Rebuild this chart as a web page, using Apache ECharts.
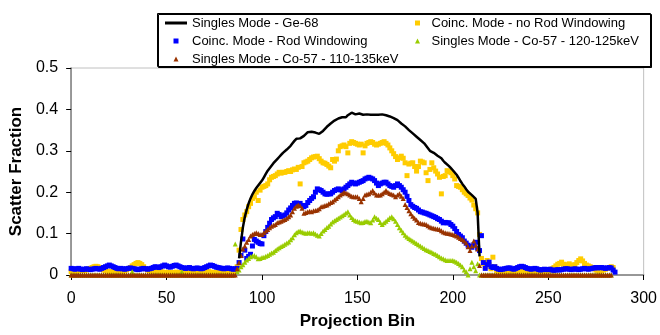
<!DOCTYPE html>
<html>
<head>
<meta charset="utf-8">
<script src="https://cdn.jsdelivr.net/npm/echarts@6/dist/echarts.min.js"></script>
<style>
  html, body { margin: 0; padding: 0; background: #fff; }
  #chart { width: 660px; height: 335px; }
</style>
</head>
<body>
<div id="chart"></div>
<script>
// x axis = projection bin, each series starts at a given bin
const xTicks = { min: 0, max: 300, step: 50 }
const yTicks = { min: 0, max: 0.5, step: 0.1 }

const names = [
  'Singles Mode - Ge-68',
  'Coinc. Mode - no Rod Windowing',
  'Coinc. Mode - Rod Windowing',
  'Singles Mode - Co-57 - 120-125keV',
  'Singles Mode - Co-57 - 110-135keV',
]

// Singles Mode - Ge-68 (line), bins 88..214
const geStart = 88
const geVals = [
  .04, .08,
  .115, .14, .158, .173, .185, .195, .203, .21, .216, .222,
  .228, .236, .244, .252, .258, .264, .27, .275, .28, .285,
  .29, .295, .299, .303, .307, .312, .318, .324, .329, .332,
  .33, .332, .336, .34, .345, .347, .346, .345, .344, .341,
  .341, .343, .348, .353, .358, .362, .366, .37, .373, .376,
  .378, .38, .381, .379, .381, .386, .39, .392, .391, .388,
  .388, .39, .389, .387, .386, .388, .389, .387, .386, .387,
  .388, .387, .387, .388, .388, .386, .385, .383, .381, .379,
  .377, .374, .37, .366, .362, .359, .355, .35, .346, .342,
  .338, .334, .33, .326, .322, .318, .312, .306, .3, .297,
  .295, .291, .288, .286, .282, .276, .271, .267, .263, .258,
  .253, .249, .242, .235, .227, .22, .214, .207, .201, .197,
  .193, .189, .184, .15, .045,
]

// Coinc. Mode - no Rod Windowing, bins 0..284
const noRodStart = 0
const noRodVals = [
  .008, .009, .01, .009, .01, .012, .011, .01, .012, .014,
  .016, .018, .02, .021, .02, .018, .015, .012, .01, .009,
  .008, .008, .007, .008, .009, .008, .007, .008, .01, .012,
  .015, .018, .022, .025, .028, .03, .028, .025, .02, .015,
  .012, .01, .009, .008, .007, .006, .007, .008, .007, .006,
  .006, .007, .006, .005, .006, .007, .006, .005, .006, .007,
  .006, .005, .006, .007, .006, .005, .006, .007, .006, .005,
  .006, .007, .008, .007, .006, .005, .006, .007, .006, .005,
  .006, .007, .006, .005, .006, .007, .01, .02, .06, .11,
  .134, .145, .153, .165, .173, .185, .189, .2, .18, .205,
  .212, .214, .216, .22, .23, .236, .238, .24, .244, .248,
  .246, .248, .248, .25, .252, .25, .254, .256, .255, .26,
  .22, .262, .271, .273, .275, .279, .283, .285, .286, .287,
  .281, .275, .271, .27, .267, .263, .259, .279, .275, .28,
  .3, .31, .312, .314, .31, .295, .318, .322, .32, .318,
  .316, .314, .316, .295, .312, .318, .32, .322, .32, .316,
  .314, .316, .318, .32, .322, .318, .314, .307, .3, .293,
  .286, .279, .283, .287, .282, .271, .24, .268, .27, .271,
  .262, .251, .262, .275, .273, .271, .247, .228, .255, .271,
  .259, .251, .244, .236, .196, .238, .24, .252, .25, .247,
  .24, .232, .216, .214, .212, .206, .2, .196, .192, .186,
  .181, .169, .16, .15, .098, .04, .028, .02, .035, .025,
  .015, .043, .02, .01, .008, .007, .008, .009, .008, .007,
  .008, .009, .008, .007, .008, .009, .01, .009, .008, .007,
  .008, .009, .008, .007, .008, .009, .008, .007, .008, .009,
  .01, .012, .015, .018, .022, .026, .028, .031, .026, .022,
  .025, .027, .024, .02, .025, .03, .035, .039, .034, .028,
  .024, .022, .02, .018, .015, .012, .01, .009, .01, .012,
  .014, .016, .018, .02, .018,
]

// Coinc. Mode - Rod Windowing, bins 0..285
const rodStart = 0
const rodVals = [
  .016, .015, .014, .015, .016, .014, .013, .014, .015, .014,
  .013, .014, .015, .016, .015, .014, .016, .018, .02, .022,
  .024, .022, .02, .018, .016, .015, .016, .015, .014, .015,
  .016, .017, .016, .015, .014, .013, .014, .015, .016, .015,
  .014, .015, .016, .018, .02, .019, .018, .02, .022, .024,
  .022, .02, .019, .021, .023, .024, .022, .02, .018, .017,
  .016, .017, .018, .016, .015, .016, .017, .016, .015, .016,
  .018, .02, .022, .024, .023, .021, .019, .018, .017, .016,
  .015, .016, .017, .016, .015, .014, .015, .016, .03, .047,
  .087, .06, .04, .045, .05, .07, .086, .082, .079, .076,
  .075, .095, .105, .115, .125, .134, .138, .141, .149, .146,
  .141, .143, .145, .15, .157, .162, .168, .173, .174, .172,
  .173, .168, .165, .168, .175, .18, .185, .189, .2, .208,
  .206, .204, .2, .196, .195, .196, .196, .2, .204, .206,
  .208, .206, .204, .208, .212, .216, .22, .224, .222, .22,
  .222, .224, .226, .228, .232, .234, .236, .234, .232, .228,
  .222, .216, .22, .222, .224, .224, .22, .216, .214, .212,
  .216, .22, .216, .212, .206, .2, .19, .18, .17, .166,
  .163, .161, .157, .153, .152, .15, .149, .147, .145, .143,
  .141, .139, .136, .134, .13, .126, .127, .126, .126, .122,
  .118, .112, .105, .098, .094, .09, .082, .077, .072, .069,
  .067, .073, .079, .065, .059, .095, .03, .016, .025, .031,
  .02, .018, .02, .016, .014, .013, .014, .015, .016, .017,
  .017, .015, .014, .016, .018, .02, .021, .02, .018, .016,
  .015, .014, .015, .016, .015, .013, .012, .013, .014, .013,
  .013, .014, .012, .011, .012, .013, .012, .013, .014, .015,
  .015, .014, .013, .014, .015, .014, .013, .014, .015, .016,
  .015, .014, .015, .016, .017, .018, .017, .018, .018, .017,
  .016, .017, .018, .017, .012, .007,
]

// Singles Mode - Co-57 - 120-125keV, bins 0..283
const co57NarrowStart = 0
const co57NarrowVals = [
  0, 0, 0, 0, 0, 0, 0, 0, 0, 0,
  0, 0, 0, 0, 0, 0, 0, 0, 0, 0,
  0, 0, 0, 0, 0, 0, 0, 0, 0, 0,
  0, 0, .008, 0, 0, 0, 0, 0, 0, 0,
  0, 0, 0, 0, 0, 0, 0, 0, 0, 0,
  0, 0, 0, 0, 0, 0, 0, 0, .008, 0,
  0, 0, 0, 0, 0, 0, 0, 0, 0, 0,
  0, 0, 0, 0, 0, 0, 0, 0, 0, 0,
  0, 0, 0, 0, 0, 0, .075, .008, .012, .02,
  .025, .031, .036, .04, .044, .046, .047, .044, .039, .04,
  .042, .043, .045, .047, .05, .053, .055, .059, .063, .066,
  .069, .071, .074, .077, .08, .085, .09, .097, .102, .105,
  .106, .104, .102, .101, .102, .102, .101, .102, .099, .096,
  .094, .1, .106, .11, .115, .118, .123, .128, .131, .134,
  .137, .14, .143, .146, .15, .153, .145, .139, .134, .131,
  .13, .128, .126, .127, .129, .13, .128, .126, .133, .141,
  .137, .134, .127, .122, .126, .13, .134, .138, .141, .136,
  .13, .122, .114, .108, .102, .096, .092, .088, .085, .082,
  .079, .076, .073, .07, .067, .064, .061, .059, .057, .055,
  .052, .05, .047, .044, .041, .039, .037, .035, .035, .035,
  .035, .033, .031, .028, .024, .02, .012, .008, 0, .015,
  .031, .02, .01, .027, 0, 0, 0, 0, 0, 0,
  0, 0, 0, 0, 0, 0, 0, 0, 0, 0,
  0, 0, 0, 0, 0, 0, 0, 0, 0, 0,
  0, 0, 0, 0, 0, 0, 0, 0, 0, 0,
  0, 0, 0, 0, 0, 0, 0, 0, 0, 0,
  0, 0, 0, 0, 0, 0, 0, 0, 0, 0,
  0, 0, 0, 0, 0, 0, 0, 0, 0, 0,
  0, 0, 0, 0,
]

// Singles Mode - Co-57 - 110-135keV, bins 0..283
const co57WideStart = 0
const co57WideVals = [
  0, 0, 0, 0, 0, 0, 0, 0, 0, 0,
  0, 0, 0, 0, 0, 0, 0, 0, 0, 0,
  0, 0, 0, 0, 0, 0, 0, 0, 0, 0,
  0, 0, 0, 0, 0, 0, 0, 0, 0, 0,
  0, 0, 0, 0, 0, 0, 0, 0, 0, 0,
  0, 0, 0, 0, 0, 0, 0, 0, 0, 0,
  0, 0, 0, 0, 0, 0, 0, 0, 0, 0,
  0, 0, 0, 0, 0, 0, 0, 0, 0, 0,
  0, 0, 0, 0, 0, 0, 0, .015, .03, .047,
  .063, .07, .079, .086, .094, .098, .1, .102, .1, .098,
  .098, .102, .106, .11, .114, .118, .12, .122, .126, .128,
  .13, .132, .134, .137, .141, .145, .153, .161, .166, .169,
  .167, .161, .149, .151, .153, .154, .153, .155, .156, .157,
  .16, .165, .166, .168, .169, .172, .175, .177, .181, .185,
  .189, .193, .196, .2, .198, .196, .193, .19, .189, .189,
  .189, .185, .177, .185, .193, .195, .196, .2, .204, .198,
  .193, .193, .193, .196, .2, .204, .2, .197, .195, .193,
  .189, .193, .196, .19, .185, .17, .163, .155, .148, .142,
  .137, .133, .127, .125, .124, .123, .122, .119, .116, .114,
  .113, .112, .111, .11, .107, .104, .102, .101, .1, .099,
  .098, .096, .094, .091, .088, .086, .082, .077, .068, .059,
  .07, .082, .072, .063, .023, 0, 0, 0, 0, 0,
  0, 0, 0, 0, 0, 0, 0, 0, 0, 0,
  0, 0, 0, 0, 0, 0, 0, 0, 0, 0,
  0, 0, 0, 0, 0, 0, 0, 0, 0, 0,
  0, 0, 0, 0, 0, 0, 0, 0, 0, 0,
  0, 0, 0, 0, 0, 0, 0, 0, 0, 0,
  0, 0, 0, 0, 0, 0, 0, 0, 0, 0,
  0, 0, 0, 0,
]

const colors = ['#000000', '#FFCC00', '#0000FF', '#99CC00', '#993300']
const FONT = '"Liberation Sans", Arial, sans-serif'

// bin index + value pairs
const pairs = (start, vals) => vals.map((v, i) => [start + i, v])

// legend icons (path icons keep their aspect inside the legend slot)
const LINE = 'path://M0,0H22V3H0Z'
const SQUARE = 'path://M0,0H10V10H0Z'
const TRIANGLE = 'path://M5,0L10,10H0Z'

const chart = echarts.init(document.getElementById('chart'))

function scatter(name, start, vals, color, icon) {
  return {
    name,
    type: 'scatter',
    data: pairs(start, vals),
    symbol: icon === 'square' ? 'rect' : 'triangle',
    symbolSize: 5,
    itemStyle: { color, opacity: 1 },
    silent: true,
  }
}

const legendText = { fontFamily: FONT, fontSize: 13, color: '#000', lineHeight: 14 }

chart.setOption({
  animation: false,
  backgroundColor: '#fff',
  textStyle: { fontFamily: FONT },
  graphic: [
    {
      type: 'rect',
      z: 0,
      shape: { x: 157.5, y: 13.5, width: 493, height: 53 },
      style: { fill: '#fff', stroke: '#000', lineWidth: 1, shadowColor: '#000', shadowOffsetX: 1, shadowOffsetY: 1, shadowBlur: 0 },
    },
  ],
  legend: [
    {
      orient: 'vertical',
      left: 165,
      top: 16,
      padding: 0,
      itemGap: 4,
      itemWidth: 22,
      itemHeight: 5,
      textStyle: legendText,
      data: [
        { name: names[0], icon: LINE, itemStyle: { color: '#000' } },
        { name: names[2], icon: SQUARE },
        { name: names[4], icon: TRIANGLE },
      ],
    },
    {
      orient: 'vertical',
      left: 415,
      top: 16,
      padding: 0,
      itemGap: 4,
      itemWidth: 18,
      itemHeight: 5,
      textStyle: legendText,
      data: [
        { name: names[1], icon: SQUARE },
        { name: names[3], icon: TRIANGLE },
      ],
    },
  ],
  grid: {
    left: 68, right: 12, top: 68, bottom: 55,
    show: true, borderColor: '#c0c0c0', borderWidth: 1,
  },
  xAxis: {
    type: 'value',
    min: xTicks.min,
    max: xTicks.max,
    interval: xTicks.step,
    name: 'Projection Bin',
    nameLocation: 'middle',
    nameGap: 38,
    nameTextStyle: { fontFamily: FONT, fontSize: 17, fontWeight: 'bold', color: '#000' },
    axisLine: { lineStyle: { color: '#808080', width: 1.5 } },
    axisTick: { show: true, length: 5, lineStyle: { color: '#000' } },
    axisLabel: { fontFamily: FONT, fontSize: 16, color: '#000', margin: 16 },
    splitLine: { show: false },
  },
  yAxis: {
    type: 'value',
    min: yTicks.min,
    max: yTicks.max,
    interval: yTicks.step,
    name: 'Scatter Fraction',
    nameLocation: 'middle',
    nameGap: 43,
    nameTextStyle: { fontFamily: FONT, fontSize: 17, fontWeight: 'bold', color: '#000' },
    axisLine: { show: true, lineStyle: { color: '#808080', width: 1.5 } },
    axisTick: { show: true, length: 5, lineStyle: { color: '#000' } },
    axisLabel: { fontFamily: FONT, fontSize: 16, color: '#000', margin: 13 },
    splitLine: { show: false },
  },
  series: [
    scatter(names[1], noRodStart, noRodVals, colors[1], 'square'),
    scatter(names[2], rodStart, rodVals, colors[2], 'square'),
    scatter(names[3], co57NarrowStart, co57NarrowVals, colors[3], 'triangle'),
    scatter(names[4], co57WideStart, co57WideVals, colors[4], 'triangle'),
    {
      name: names[0],
      type: 'line',
      data: pairs(geStart, geVals),
      symbol: 'none',
      showSymbol: false,
      z: 5,
      lineStyle: { color: colors[0], width: 2.5 },
      itemStyle: { color: colors[0] },
      silent: true,
    },
  ],
})
</script>
</body>
</html>
